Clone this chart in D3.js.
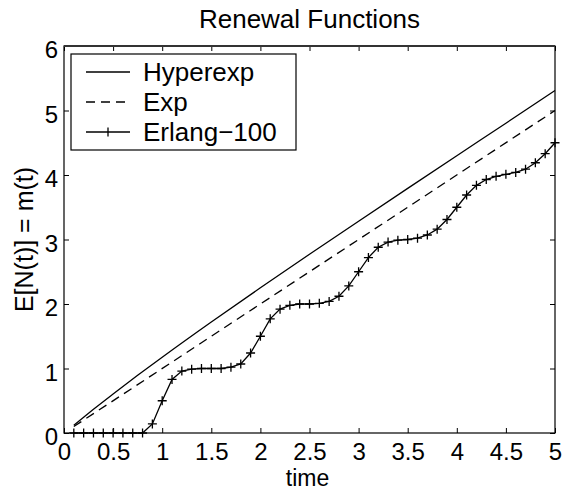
<!DOCTYPE html>
<html>
<head>
<meta charset="utf-8">
<script src="https://cdn.jsdelivr.net/npm/d3@7"></script>
<style>
  body { margin: 0; background: #fff; }
  svg text { font-family: "Liberation Sans", Arial, Helvetica, sans-serif; fill: #000; }
</style>
</head>
<body>
<div id="chart"></div>
<script>
// time grid of the Erlang-100 curve
const erlangTime = [0.1, 0.2, 0.3, 0.4, 0.5, 0.6, 0.7, 0.8, 0.9, 1.0,
    1.1, 1.2, 1.3, 1.4, 1.5, 1.6, 1.7, 1.8, 1.9, 2.0,
    2.1, 2.2, 2.3, 2.4, 2.5, 2.6, 2.7, 2.8, 2.9, 3.0,
    3.1, 3.2, 3.3, 3.4, 3.5, 3.6, 3.7, 3.8, 3.9, 4.0,
    4.1, 4.2, 4.3, 4.4, 4.5, 4.6, 4.7, 4.8, 4.9, 5.0];
const erlangValues = [0, 0, 0, 0, 0, 0, 0, 0, 0.14, 0.5,
    0.83, 0.96, 0.99, 1.0, 1.0, 1.0, 1.02, 1.07, 1.24, 1.5,
    1.77, 1.92, 1.98, 2.0, 2.0, 2.01, 2.04, 2.12, 2.28, 2.5,
    2.72, 2.88, 2.96, 2.99, 3.0, 3.02, 3.07, 3.16, 3.31, 3.5,
    3.69, 3.84, 3.93, 3.98, 4.01, 4.04, 4.09, 4.19, 4.33, 4.5];

const hyperTime = [0.1, 0.2, 0.3, 0.5, 0.75, 1.0, 1.5, 2.0, 2.5, 3.0, 3.5, 4.0, 4.5, 5.0];
const hyperValues = [0.12, 0.245, 0.368, 0.605, 0.894, 1.175, 1.721, 2.251, 2.771, 3.284, 3.793, 4.299, 4.803, 5.31];

const expTime = [0.1, 5.0];
const expValues = [0.1, 5.0];

const xTicks = [0, 0.5, 1, 1.5, 2, 2.5, 3, 3.5, 4, 4.5, 5];
const yTicks = [0, 1, 2, 3, 4, 5, 6];
const legendLabels = ["Hyperexp", "Exp", "Erlang\u2212100"];

function drawChart() {
    const W = 564, H = 491;
    const margin = {top: 46, right: 9, bottom: 58, left: 64};
    const width = W - margin.left - margin.right;
    const height = H - margin.top - margin.bottom;
    const fontSize = "24px";

    const svg = d3.select("#chart").append("svg")
        .attr("width", W)
        .attr("height", H);

    const g = svg.append("g")
        .attr("transform", `translate(${margin.left}, ${margin.top})`);

    const x = d3.scaleLinear().domain([0, 5]).range([0, width]);
    const y = d3.scaleLinear().domain([0, 6]).range([height, 0]);

    // axes, MATLAB style: ticks pointing inwards on all four sides
    g.append("g")
        .attr("transform", `translate(0, ${height})`)
        .call(d3.axisBottom(x).tickValues(xTicks).tickSize(-5).tickPadding(10).tickFormat(d3.format("")))
        .call(a => a.select(".domain").remove());
    g.append("g")
        .call(d3.axisTop(x).tickValues(xTicks).tickSize(-5).tickFormat(""))
        .call(a => a.select(".domain").remove());
    const yAxis = g.append("g")
        .call(d3.axisLeft(y).tickValues(yTicks).tickSize(-5).tickPadding(6).tickFormat(d3.format("d")))
        .call(a => a.select(".domain").remove());
    yAxis.selectAll(".tick text").attr("dy", "0.48em");
    g.append("g")
        .attr("transform", `translate(${width}, 0)`)
        .call(d3.axisRight(y).tickValues(yTicks).tickSize(-5).tickFormat(""))
        .call(a => a.select(".domain").remove());

    g.selectAll(".tick text").style("font-size", fontSize);
    g.selectAll(".tick line").attr("stroke", "#000");

    g.append("rect")
        .attr("width", width)
        .attr("height", height)
        .attr("fill", "none")
        .attr("stroke", "#000")
        .attr("stroke-width", 1.2);
    // top edge is a bit heavier in the original
    g.append("line")
        .attr("x1", 0).attr("x2", width)
        .attr("y1", 0).attr("y2", 0)
        .attr("stroke", "#333").attr("stroke-width", 2);

    const hyper = hyperTime.map((t, i) => [t, hyperValues[i]]);
    const expo = expTime.map((t, i) => [t, expValues[i]]);
    const erlang = erlangTime.map((t, i) => [t, erlangValues[i]]);

    g.append("path").datum(hyper)
        .attr("d", d3.line().x(d => x(d[0])).y(d => y(d[1])).curve(d3.curveMonotoneX))
        .attr("fill", "none").attr("stroke", "#000").attr("stroke-width", 1.3);

    g.append("path").datum(expo)
        .attr("d", d3.line().x(d => x(d[0])).y(d => y(d[1])))
        .attr("fill", "none").attr("stroke", "#000").attr("stroke-width", 1.3)
        .attr("stroke-dasharray", "9,6");

    g.append("path").datum(erlang)
        .attr("d", d3.line().x(d => x(d[0])).y(d => y(d[1])))
        .attr("fill", "none").attr("stroke", "#000").attr("stroke-width", 1.3);

    // plus markers
    const m = 4.5;
    g.selectAll(".plus")
        .data(erlang)
        .enter()
        .append("path")
        .attr("class", "plus")
        .attr("d", d => `M${x(d[0]) - m},${y(d[1])}H${x(d[0]) + m}M${x(d[0])},${y(d[1]) - m}V${y(d[1]) + m}`)
        .attr("stroke", "#000")
        .attr("stroke-width", 1.3);

    // legend
    const leg = g.append("g").attr("transform", "translate(7, 8)");
    leg.append("rect")
        .attr("width", 225).attr("height", 96)
        .attr("fill", "#fff").attr("stroke", "#000").attr("stroke-width", 1.2);
    legendLabels.forEach(function(label, i) {
        const cy = 18 + i * 30;
        const s = leg.append("line")
            .attr("x1", 15).attr("x2", 59)
            .attr("y1", cy).attr("y2", cy)
            .attr("stroke", "#000").attr("stroke-width", 1.3);
        if (i == 1) s.attr("stroke-dasharray", "9,6");
        if (i == 2) {
            leg.append("line")
                .attr("x1", 37).attr("x2", 37)
                .attr("y1", cy - m).attr("y2", cy + m)
                .attr("stroke", "#000").attr("stroke-width", 1.3);
        }
        leg.append("text")
            .attr("x", 72).attr("y", cy)
            .attr("dy", "0.36em")
            .style("font-size", "26px")
            .text(label);
    });

    // titles
    svg.append("text")
        .attr("x", margin.left + width / 2)
        .attr("y", 28)
        .attr("text-anchor", "middle")
        .style("font-size", "26px")
        .text("Renewal Functions");

    svg.append("text")
        .attr("x", margin.left + width / 2 - 2)
        .attr("y", 486)
        .attr("text-anchor", "middle")
        .style("font-size", "23px")
        .text("time");

    svg.append("text")
        .attr("transform", `translate(33, ${margin.top + height / 2}) rotate(-90)`)
        .attr("text-anchor", "middle")
        .style("font-size", "25px")
        .text("E[N(t)] = m(t)");
}

drawChart();
</script>
</body>
</html>
